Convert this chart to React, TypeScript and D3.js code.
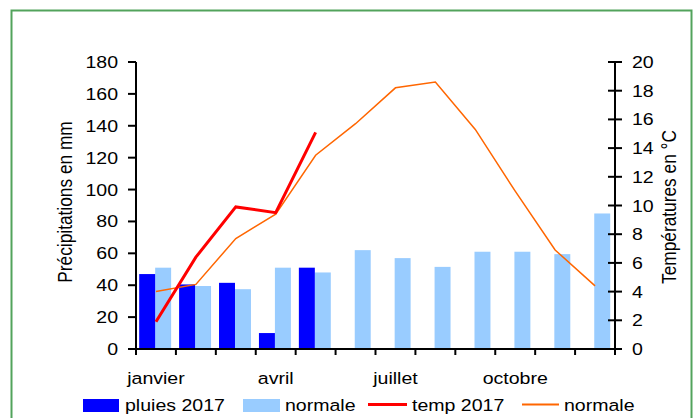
import React from 'react';
import * as d3 from 'd3';

const months = ['janvier', 'février', 'mars', 'avril', 'mai', 'juin', 'juillet', 'août', 'septembre', 'octobre', 'novembre', 'décembre'];
const shownMonths = ['janvier', 'avril', 'juillet', 'octobre'];
const pluies2017 = [47, 40.5, 41.5, 10, 51];
const pluiesNormale = [51, 39.5, 37.5, 51, 48, 62, 57, 51.5, 61, 61, 59.5, 85];
const temp2017 = [1.9, 6.4, 9.9, 9.5, 15.1];
const tempNormale = [4.0, 4.5, 7.7, 9.4, 13.5, 15.7, 18.2, 18.6, 15.3, 11.0, 6.9, 4.4];
const leftTicks = [0, 20, 40, 60, 80, 100, 120, 140, 160, 180];
const rightTicks = [0, 2, 4, 6, 8, 10, 12, 14, 16, 18, 20];

const W = 697;
const H = 418;
const FONT = 'Liberation Sans, Arial, sans-serif';
const SX = 1.15; // the reference text is stretched horizontally

export default function App() {
  const x = d3.scaleBand().domain(months).range([136, 615]).padding(0);
  const sub = d3.scaleBand().domain(['p', 'n']).range([0, x.bandwidth()]).paddingOuter(0.25).align(0.4);
  const yL = d3.scaleLinear().domain([0, 180]).range([349, 62]);
  const yR = d3.scaleLinear().domain([0, 20]).range([349, 62]);

  const line = d3.line<number>()
    .x((_, i) => (x(months[i]) as number) + x.bandwidth() / 2)
    .y(d => yR(d));

  const txt = (s: string, tx: number, ty: number, anchor: string) => (
    <text
      transform={`translate(${tx},${ty}) scale(${SX},1)`}
      textAnchor={anchor}
      fontFamily={FONT}
      fontSize={17}
      fill="#000"
    >{s}</text>
  );

  const boundaries = months.map(m => x(m) as number).concat([615]);

  return (
    <svg width={W} height={H} style={{ position: 'absolute', left: 0, top: 0, display: 'block' }}>
      <rect x={0} y={0} width={W} height={H} fill="#fff" />
      <rect x={11.5} y={10.5} width={680} height={420} fill="none" stroke="#52a35c" strokeWidth={2} />

      {/* bars */}
      {pluiesNormale.map((v, i) => (
        <rect key={'n' + i} x={(x(months[i]) as number) + (sub('n') as number)} y={yL(v)}
          width={sub.bandwidth()} height={yL(0) - yL(v)} fill="#99ccff" />
      ))}
      {pluies2017.map((v, i) => (
        <rect key={'p' + i} x={(x(months[i]) as number) + (sub('p') as number)} y={yL(v)}
          width={sub.bandwidth()} height={yL(0) - yL(v)} fill="#0000ff" />
      ))}

      {/* lines */}
      <path d={line(tempNormale) || ''} fill="none" stroke="#ff6600" strokeWidth={1.5} />
      <path d={line(temp2017) || ''} fill="none" stroke="#ff0000" strokeWidth={3} />

      {/* left axis */}
      <line x1={136} x2={136} y1={yL(180)} y2={yL(0) + 1} stroke="#000" strokeWidth={2} />
      {leftTicks.map(t => (
        <g key={'l' + t}>
          <line x1={128} x2={136} y1={yL(t)} y2={yL(t)} stroke="#000" strokeWidth={2} />
          {txt(String(t), 118, yL(t) + 6, 'end')}
        </g>
      ))}

      {/* right axis */}
      <line x1={615} x2={615} y1={yR(20)} y2={yR(0) + 1} stroke="#000" strokeWidth={2} />
      {rightTicks.map(t => (
        <g key={'r' + t}>
          <line x1={608} x2={622} y1={yR(t)} y2={yR(t)} stroke="#000" strokeWidth={2} />
          {txt(String(t), 632, yR(t) + 6, 'start')}
        </g>
      ))}

      {/* bottom axis */}
      <line x1={135} x2={616} y1={349} y2={349} stroke="#000" strokeWidth={2} />
      {boundaries.map((b, i) => (
        <line key={'b' + i} x1={b} x2={b} y1={349} y2={355} stroke="#000" strokeWidth={2} />
      ))}
      {shownMonths.map(m => (
        <g key={m}>{txt(m, (x(m) as number) + x.bandwidth() / 2, 384, 'middle')}</g>
      ))}

      {/* axis titles */}
      <text transform="translate(72,202) rotate(-90) scale(1,1.12)" textAnchor="middle" fontFamily={FONT} fontSize={17.3}>Précipitations en mm</text>
      <text transform="translate(676,207) rotate(-90) scale(1,1.12)" textAnchor="middle" fontFamily={FONT} fontSize={17.3}>Températures en °C</text>

      {/* legend */}
      <rect x={83} y={399} width={36} height={13} fill="#0000ff" />
      {txt('pluies 2017', 125, 411, 'start')}
      <rect x={243} y={399} width={37} height={13} fill="#99ccff" />
      {txt('normale', 285, 411, 'start')}
      <line x1={368} x2={407} y1={404.5} y2={404.5} stroke="#ff0000" strokeWidth={3} />
      {txt('temp 2017', 412, 411, 'start')}
      <line x1={522} x2={559} y1={404.5} y2={404.5} stroke="#ff6600" strokeWidth={2} />
      {txt('normale', 564, 411, 'start')}
    </svg>
  );
}
